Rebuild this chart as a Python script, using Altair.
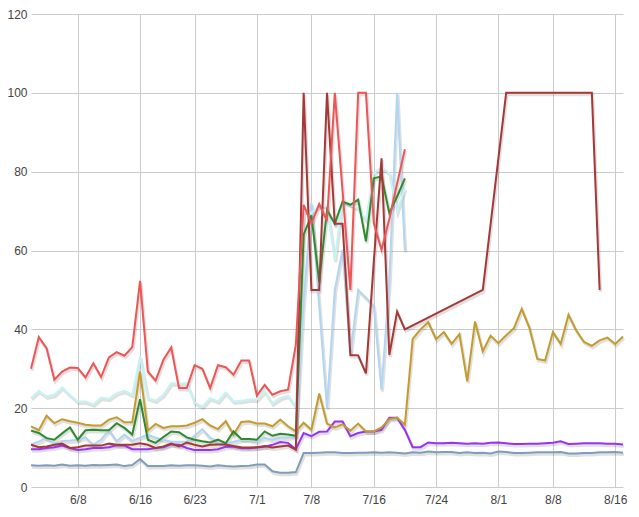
import datetime as dt
import altair as alt
import pandas as pd

START = dt.date(2013, 6, 2)
END = dt.date(2013, 8, 17)

# tick dates (month, day)
TICKS = [(6, 8), (6, 16), (6, 23), (7, 1), (7, 8), (7, 16), (7, 24), (8, 1), (8, 8), (8, 16)]
Y_TICKS = [0, 20, 40, 60, 80, 100, 120]

# daily values starting 6/2 (None = no point that day)
red = [30.0, 38.0, 35.2, 27.2, 29.3, 30.3, 30.2, 27.8, 31.4, 27.9, 32.9, 34.2, 33.3, 35.5, 52.3,
       29.3, 27.0, 32.3, 35.4, 25.1, 25.1, 30.9, 30.0, 25.1, 30.9, 30.4, 28.5, 32.1, 32.1, 23.2,
       25.9, 23.4, 24.3, 24.7, 36.1, 71.6, 66.8, 71.8, 67.5, 100, 75, 50, 100, 100, 67,
       60.2, 68, 77, 85.7]
cyan = [22.6, 24.4, 23.0, 23.4, 25.3, 23.4, 21.7, 21.7, 21.0, 22.7, 22.4, 23.8, 24.4, 23.4, 33.1,
        22.6, 21.9, 23.4, 26.4, 26.2, 26.4, 21.5, 20.4, 22.6, 21.7, 24.0, 21.7, 21.9, 22.2, 22.2,
        24.3, 21.2, 22.6, 23.2, 20.4, 70.0, 69.5, 71.5, 71.3, 57.6, 72.9, 71.6, 70.7, 67.8, 79.6,
        81.1, 79.6, 69.9, 75.8]
gold = [15.4, 14.4, 18.1, 16.2, 17.2, 16.7, 16.3, 15.8, 15.6, 15.6, 17.1, 17.7, 16.4, 16.4, 29.3,
        14.3, 16.0, 15.0, 15.4, 15.4, 15.6, 16.3, 17.2, 15.6, 14.7, 16.7, 13.3, 16.5, 16.7, 16.1,
        16.1, 15.4, 17.1, 15.4, 14.1, 16.3, 14.5, 23.7, 16.1, 15.1, 15.9, 14.3, 16.1, 14.1, 14.1,
        15.1, 17.2, 17.6, 15.8, 37.6, 40.0, 41.8, 37.5, 39.3, 36.3, 38.8, 26.8, 42.0, 34.4, 38.4,
        36.5, 38.5, 40.3, 45.2, 40.3, 32.5, 32.1, 39.3, 36.3, 43.7, 39.7, 36.8, 35.8, 37.2, 37.9,
        36.3, 38.2]
green = [14.3, 13.7, 12.4, 12.0, 13.6, 15.1, 12.0, 14.4, 14.5, 14.4, 14.4, 16.2, 15.0, 13.3, 22.3,
         12.0, 11.2, 12.7, 14.1, 13.9, 12.6, 12.0, 11.6, 11.3, 12.0, 11.1, 14.1, 12.2, 12.2, 12.0,
         14.1, 13.0, 13.5, 13.3, 13.0, 64.0, 68.9, 52.0, 70.3, 66.8, 72.4, 71.6, 72.9, 62.3, 78.3,
         78.8, 69.5, 73.7, 78.3]
light_blue = [10.8, 11.5, 12.5, 11.0, 11.7, 11.8, 12.0, 12.6, 10.7, 12.0, 14.5, 11.6, 13.3, 11.7, 12.5,
              13.3, 12.5, 12.0, 11.5, 11.5, 11.5, 13.0, 14.7, 12.5, 11.5, 11.0, 11.5, 12.0, 12.0, 11.5,
              12.5, 12.0, 12.5, 12.5, 13.0, 47, 72, 46, 20.0, 50.0, 60.2, 33.6, 50.0, 48.0, 46.0,
              24.7, 52, 100, 60]
dark_red = [10.7, 10.1, 10.3, 10.7, 11.0, 9.9, 10.1, 10.5, 10.5, 10.5, 11.0, 10.7, 10.7, 10.7, 11.1,
            10.7, 9.9, 10.3, 11.0, 10.3, 11.3, 10.7, 10.3, 10.7, 10.8, 10.8, 10.4, 10.1, 10.0, 10.1,
            10.4, 10.0, 10.3, 10.5, 9.5, 100, 50, 50, 100, 66.8, 66.8, 33.5, 33.4, 28.8, 57,
            83.4, 33.5, 44.5, 40.0, None, None, None, None, None, None, None, None, None, 50, None,
            None, 100, None, None, None, None, None, None, None, None, None, None, 100, 50]
purple = [9.6, 9.6, 9.9, 10.1, 10.5, 9.9, 9.4, 9.6, 9.9, 9.9, 10.1, 10.6, 10.5, 9.6, 9.6,
          9.6, 9.9, 10.1, 10.8, 10.7, 9.9, 9.4, 9.4, 9.4, 9.6, 10.2, 10.2, 9.8, 9.8, 10.0,
          10.2, 10.7, 11.4, 11.2, 9.6, 13.7, 12.9, 14.0, 14.1, 16.6, 16.6, 12.9, 13.7, 14.1, 14.1,
          14.5, 17.6, 17.6, 14.5, 10.1, 10.1, 11.3, 11.1, 11.1, 11.2, 11.1, 11.0, 11.1, 11.0, 11.2,
          11.3, 11.1, 10.9, 10.9, 11.0, 11.0, 11.1, 11.2, 11.6, 10.9, 11.0, 11.1, 11.1, 11.1, 11.0,
          11.0, 10.8]
steel = [5.5, 5.4, 5.5, 5.4, 5.7, 5.4, 5.5, 5.4, 5.6, 5.5, 5.6, 5.7, 5.3, 5.6, 7.1,
         5.3, 5.3, 5.3, 5.5, 5.4, 5.5, 5.5, 5.4, 5.2, 5.5, 5.3, 5.2, 5.3, 5.4, 5.7,
         5.7, 4.0, 3.6, 3.6, 3.8, 8.6, 8.6, 8.7, 8.8, 8.8, 8.6, 8.6, 8.7, 8.7, 8.8,
         8.7, 8.8, 8.7, 8.5, 8.8, 8.7, 9.0, 8.8, 8.9, 8.9, 8.6, 8.8, 8.6, 8.7, 8.5,
         9.0, 8.9, 8.6, 8.6, 8.7, 8.8, 8.8, 8.8, 8.9, 8.5, 8.5, 8.6, 8.6, 8.8, 8.8,
         8.9, 8.7]

# draw order: first is bottom
SERIES = [
    ("light_blue", light_blue, "#b2d5f2"),
    ("cyan", cyan, "#c6f3f3"),
    ("steel", steel, "#7f9dbb"),
    ("purple", purple, "#9933f2"),
    ("gold", gold, "#c49b2c"),
    ("green", green, "#2f8a2f"),
    ("dark_red", dark_red, "#a63838"),
    ("red", red, "#f05555"),
]


def utc_ms(d):
    return int(dt.datetime(d.year, d.month, d.day, tzinfo=dt.timezone.utc).timestamp() * 1000)


rows = []
for name, vals, _ in SERIES:
    for i, v in enumerate(vals):
        if v is not None:
            d = START + dt.timedelta(days=i)
            rows.append({"t": utc_ms(d), "series": name, "value": v})
df = pd.DataFrame(rows)

FONT = "Arial, Liberation Sans, sans-serif"
tick_ms = [utc_ms(dt.date(2013, m, d)) for m, d in TICKS]

x_enc = alt.X(
    "t:Q",
    scale=alt.Scale(domain=[utc_ms(START), utc_ms(END)], nice=False, zero=False),
    axis=alt.Axis(values=tick_ms,
                  labelExpr="utcFormat(datum.value, '%-m/%-d')",
                  title=None, grid=True, gridColor="#cccccc",
                  domain=False, ticks=False, labelFont=FONT, labelFontSize=12,
                  labelColor="#444444", labelPadding=7, labelFlush=False),
)
y_enc = alt.Y(
    "value:Q",
    scale=alt.Scale(domain=[0, 120], nice=False),
    axis=alt.Axis(values=Y_TICKS, title=None, grid=True, gridColor="#cccccc",
                  domain=False, ticks=False, labelFont=FONT, labelFontSize=12,
                  labelColor="#444444", labelPadding=4),
)

base = alt.Chart(df)

shadow = base.mark_line(color="#000000", opacity=0.12, strokeWidth=3,
                        xOffset=1, yOffset=2).encode(x=x_enc, y=y_enc, detail="series:N")

layers = [shadow]
for name, _, color in SERIES:
    layers.append(
        base.transform_filter(alt.datum.series == name)
        .mark_line(color=color, strokeWidth=2)
        .encode(x=x_enc, y=y_enc)
    )

chart = alt.layer(*layers).properties(
    width=592,
    height=473,
    autosize=alt.AutoSizeParams(type="none"),
    padding={"left": 23, "top": 6, "right": 6, "bottom": 18},
    background="white",
).configure_view(stroke=None)

chart.save("out.html", embed_options={"renderer": "svg", "actions": False})
